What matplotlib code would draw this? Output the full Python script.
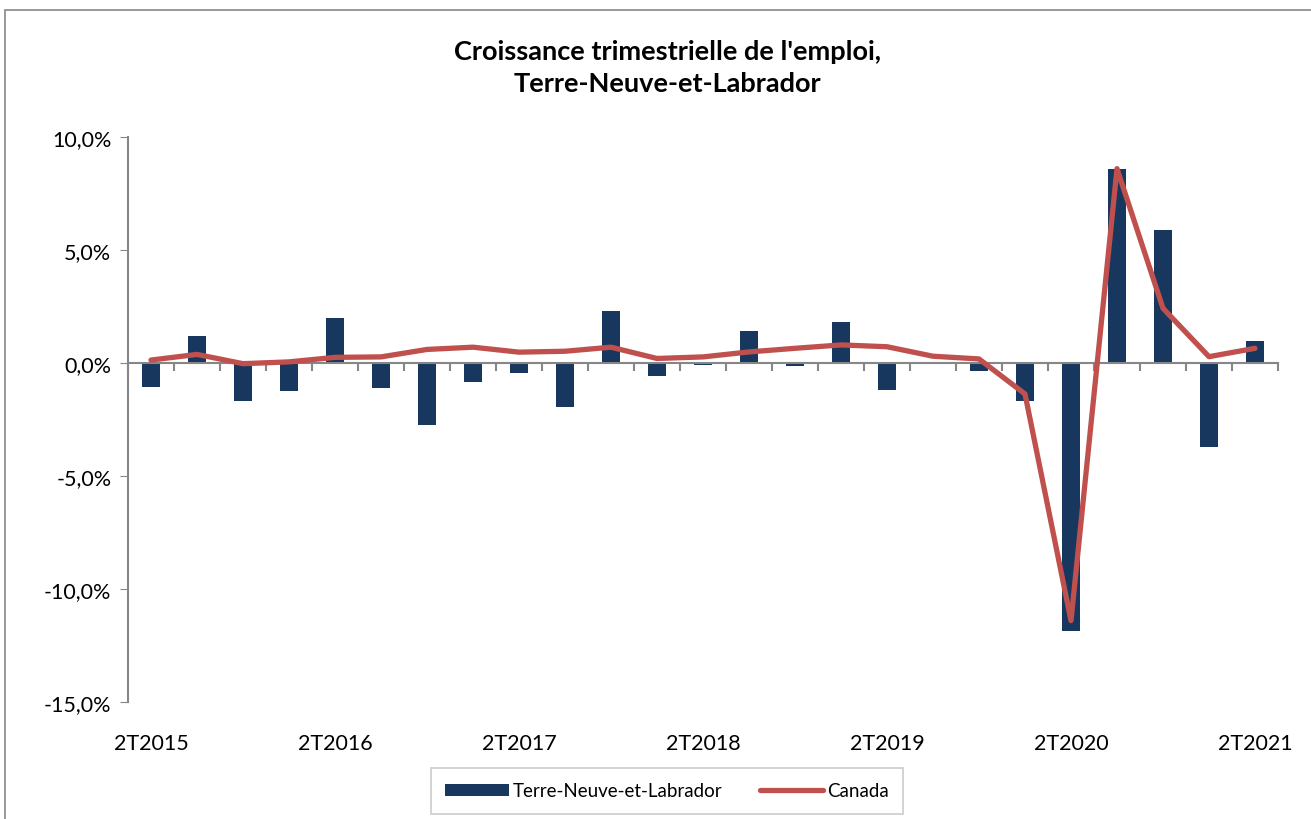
import numpy as np
import matplotlib
matplotlib.use("Agg")
import matplotlib.pyplot as plt
from matplotlib.patches import Rectangle
from matplotlib.ticker import FuncFormatter

# Quarterly employment growth (%), 2T2015 .. 2T2021
quarters = ["2T2015", "3T2015", "4T2015", "1T2016",
            "2T2016", "3T2016", "4T2016", "1T2017",
            "2T2017", "3T2017", "4T2017", "1T2018",
            "2T2018", "3T2018", "4T2018", "1T2019",
            "2T2019", "3T2019", "4T2019", "1T2020",
            "2T2020", "3T2020", "4T2020", "1T2021",
            "2T2021"]
tnl = [-1.06, 1.19, -1.68, -1.25,
       1.99, -1.10, -2.74, -0.85,
       -0.44, -1.94, 2.30, -0.58,
       -0.10, 1.40, -0.12, 1.80,
       -1.20, 0.0, -0.35, -1.70,
       -11.86, 8.60, 5.87, -3.70,
       0.97]
canada = [0.13, 0.38, -0.03, 0.05,
          0.25, 0.27, 0.60, 0.70,
          0.48, 0.52, 0.70, 0.20,
          0.27, 0.49, 0.65, 0.80,
          0.72, 0.30, 0.18, -1.37,
          -11.40, 8.60, 2.42, 0.28,
          0.65]
shown_labels = ["2T2015", "2T2016", "2T2017", "2T2018", "2T2019", "2T2020", "2T2021"]

navy = "#17375E"
red = "#C0504D"
grey = "#868686"

plt.rcParams["font.family"] = ["Lato", "DejaVu Sans"]

fig = plt.figure(figsize=(13.11, 8.2), dpi=100)
ax = fig.add_axes([128/1311, 1 - 703/820, 1150/1311, 565/820])

# outer chart border
fig.patches.append(Rectangle((5/1311, -0.05), 1.2, 1 - 11/820 + 0.05,
                             transform=fig.transFigure, fill=False,
                             edgecolor=grey, linewidth=1.2))

x = np.arange(len(quarters))
bars = ax.bar(x, tnl, width=0.4, color=navy, label="Terre-Neuve-et-Labrador", zorder=2)
line, = ax.plot(x, canada, color=red, linewidth=3.8, solid_capstyle="round",
                solid_joinstyle="round", label="Canada", zorder=3)

ax.set_xlim(-0.5, len(quarters) - 0.5)
ax.set_ylim(-15, 10)
ax.set_yticks(np.arange(-15, 10.1, 5))
ax.yaxis.set_major_formatter(FuncFormatter(lambda v, p: f"{v:.1f}%".replace(".", ",")))
ax.tick_params(axis="y", direction="out", length=6, color=grey, labelsize=15.5, pad=6)

for s in ["top", "right"]:
    ax.spines[s].set_visible(False)
ax.spines["left"].set_color(grey)
ax.spines["left"].set_linewidth(1.5)
ax.spines["bottom"].set_position(("data", 0))
ax.spines["bottom"].set_color(grey)
ax.spines["bottom"].set_linewidth(1.5)
ax.set_xticks(np.arange(-0.5, len(quarters), 1.0))
ax.set_xticklabels([])
ax.tick_params(axis="x", direction="out", length=6, color=grey, width=1.5)

# category labels below the plot area
sec = ax.secondary_xaxis(0)
sec.set_xticks([quarters.index(q) for q in shown_labels], shown_labels)
sec.tick_params(length=0, labelsize=15.5, pad=22)
sec.spines["bottom"].set_visible(False)

fig.text(0.509, 1 - 68/820, "Croissance trimestrielle de l'emploi,\nTerre-Neuve-et-Labrador",
         ha="center", va="center", fontsize=19.5, fontweight="bold", linespacing=1.45)

leg = fig.legend(handles=[bars, line], loc="center", bbox_to_anchor=(667/1311, 1 - 792/820),
                 ncol=2, fontsize=13.5, frameon=True, fancybox=False, handlelength=3.4,
                 handleheight=0.55, columnspacing=2.0, handletextpad=0.2,
                 borderpad=0.75, borderaxespad=0)
leg.get_frame().set_edgecolor("#BFBFBF")
leg.get_frame().set_linewidth(1.2)

fig.savefig("out.png", dpi=100)
